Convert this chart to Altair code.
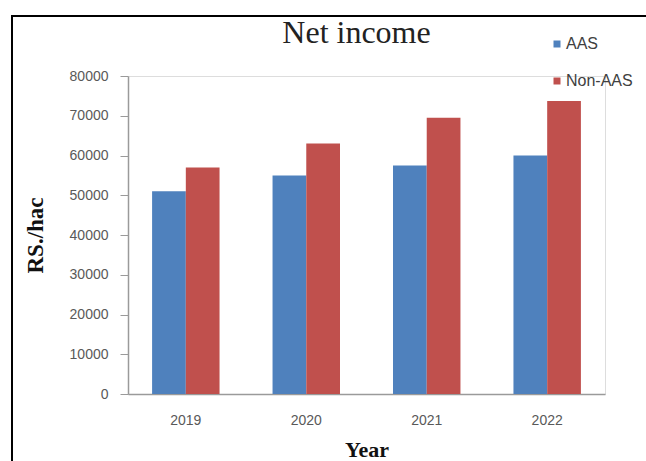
import altair as alt
import pandas as pd

years = ["2019", "2020", "2021", "2022"]
aas = [51000, 55000, 57500, 60000]
non_aas = [57000, 63000, 69500, 73700]
series = ["AAS", "Non-AAS"]
colors = ["#4F81BD", "#C0504D"]
y_ticks = [0, 10000, 20000, 30000, 40000, 50000, 60000, 70000, 80000]

rows = []
for i, y in enumerate(years):
    rows.append({"Year": y, "Series": "AAS", "Value": aas[i]})
    rows.append({"Year": y, "Series": "Non-AAS", "Value": non_aas[i]})
df = pd.DataFrame(rows)

W, H = 477, 318
LEFT, TOP = 128, 76

bars = alt.Chart(df).mark_bar().encode(
    x=alt.X("Year:N", sort=years,
            scale=alt.Scale(paddingInner=0.44, paddingOuter=0.2),
            axis=alt.Axis(title="Year", labelAngle=0, ticks=False, tickSize=0,
                          labelPadding=19, labelFont="Liberation Sans",
                          labelFontSize=14, labelColor="#595959",
                          domainColor="#9a9a9a", domainWidth=1.5,
                          titleFont="Liberation Serif", titleFontSize=22,
                          titleFontWeight="bold", titleColor="#111111",
                          titleBaseline="middle", titleY=55)),
    xOffset=alt.XOffset("Series:N", sort=series, scale=alt.Scale(paddingInner=0, paddingOuter=0)),
    y=alt.Y("Value:Q", scale=alt.Scale(domain=[0, 80000], nice=False),
            axis=alt.Axis(title="RS./hac", values=y_ticks, format="d", grid=False,
                          tickSize=8, labelPadding=12, tickColor="#9a9a9a",
                          domainColor="#9a9a9a", domainWidth=1.5,
                          labelFont="Liberation Sans", labelFontSize=14,
                          labelColor="#595959",
                          titleFont="Liberation Serif", titleFontSize=23,
                          titleFontWeight="bold", titleColor="#111111",
                          titleAngle=-90, titleBaseline="middle",
                          titleAlign="center", titleX=-93, titleY=159)),
    color=alt.Color("Series:N", sort=series,
                    scale=alt.Scale(domain=series, range=colors),
                    legend=alt.Legend(title=None, orient="none",
                                      legendX=421, legendY=-40,
                                      symbolType="square", symbolSize=49,
                                      symbolStrokeWidth=0,
                                      labelFont="Liberation Sans",
                                      labelFontSize=16, labelColor="#404040",
                                      labelOffset=1, rowPadding=21,
                                      padding=0)),
)

frame = alt.Chart(alt.Data(values=[{"k": 1}])).mark_rect(
    fill=None, stroke="black", strokeWidth=2, clip=False
).encode(
    x=alt.value(12 - LEFT), x2=alt.value(646 - LEFT + 20),
    y=alt.value(16 - TOP), y2=alt.value(461 - TOP + 20),
)

chart = alt.layer(frame, bars).properties(
    width=W, height=H,
    title=alt.TitleParams("Net income", font="Liberation Serif", fontSize=32,
                          fontWeight="normal", color="#222222",
                          anchor="middle", dx=-10, offset=-35),
    autosize=alt.AutoSizeParams(type="none"),
    padding={"left": LEFT, "top": TOP, "right": 646 - LEFT - W, "bottom": 461 - TOP - H},
).configure_view(stroke=None).configure(background="white")

chart.save("out.html", embed_options={"renderer": "svg", "actions": False})
